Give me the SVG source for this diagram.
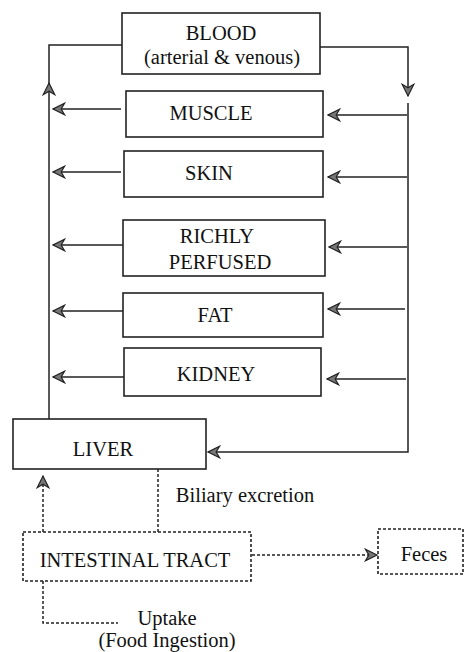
<svg xmlns="http://www.w3.org/2000/svg" width="465" height="652" viewBox="0 0 465 652">
<defs>
<marker id="ahd" markerUnits="userSpaceOnUse" markerWidth="14" markerHeight="14" viewBox="0 0 12 12" refX="11" refY="6" orient="auto">
<path d="M11,6 L1,1 L4,6 L1,11 Z" fill="#777" stroke="#222" stroke-width="1"/>
</marker>
</defs>
<style>
.box{fill:#fff;stroke:#222;stroke-width:1.6}
.dbox{fill:#fff;stroke:#222;stroke-width:1.6;stroke-dasharray:3,2}
.ln{fill:none;stroke:#222;stroke-width:1.5}
.dl{fill:none;stroke:#222;stroke-width:1.5;stroke-dasharray:3,2}
text{font-family:'Liberation Serif','Times New Roman','DejaVu Serif',serif;font-size:20.5px;fill:#111;text-anchor:middle}
</style>
<g id="connectors">
<path class="ln" d="M49,419 L49,84"/>
<path class="ln" d="M49,84 L49,45 L122,45"/>
<line x1="49" y1="84" x2="49" y2="83" class="ln" marker-end="url(#ahd)"/>
<path class="ln" d="M320,47 L408,47 L408,96" marker-end="url(#ahd)"/>
<path class="ln" d="M408,103 L408,452 L208,452" marker-end="url(#ahd)"/>
<path class="ln" d="M121,109 L53,109" marker-end="url(#ahd)"/>
<path class="ln" d="M121,172 L53,172" marker-end="url(#ahd)"/>
<path class="ln" d="M123,245 L53,245" marker-end="url(#ahd)"/>
<path class="ln" d="M123,311 L53,311" marker-end="url(#ahd)"/>
<path class="ln" d="M124,377 L53,377" marker-end="url(#ahd)"/>
<path class="ln" d="M407,115 L328,115" marker-end="url(#ahd)"/>
<path class="ln" d="M407,177 L328,177" marker-end="url(#ahd)"/>
<path class="ln" d="M407,247 L329,247" marker-end="url(#ahd)"/>
<path class="ln" d="M405,309 L328,309" marker-end="url(#ahd)"/>
<path class="ln" d="M406,379 L327,379" marker-end="url(#ahd)"/>
<path class="dl" d="M43,532 L43,476" marker-end="url(#ahd)"/>
<path class="dl" d="M158,469 L158,532"/>
<path class="dl" d="M252,555 L377,555" marker-end="url(#ahd)"/>
<path class="dl" d="M43,581 L43,623 L118,623"/>
</g>
<g id="blood"><rect class="box" x="122" y="13" width="198" height="61"/><text x="221" y="40">BLOOD</text><text x="222" y="64">(arterial &amp; venous)</text></g>
<g id="muscle"><rect class="box" x="126" y="91" width="197" height="46"/><text x="211" y="120">MUSCLE</text></g>
<g id="skin"><rect class="box" x="124" y="151" width="199" height="46"/><text x="209" y="180">SKIN</text></g>
<g id="richly"><rect class="box" x="123" y="220" width="202" height="56"/><text x="217" y="243">RICHLY</text><text x="220" y="269">PERFUSED</text></g>
<g id="fat"><rect class="box" x="123" y="293" width="200" height="44"/><text x="215" y="322">FAT</text></g>
<g id="kidney"><rect class="box" x="124" y="348" width="197" height="48"/><text x="216" y="381">KIDNEY</text></g>
<g id="liver"><rect class="box" x="13" y="419" width="193" height="50"/><text x="103" y="456">LIVER</text></g>
<g id="biliary"><text x="245" y="502">Biliary excretion</text></g>
<g id="intestinal"><rect class="dbox" x="23" y="532" width="228" height="49"/><text x="135" y="567">INTESTINAL TRACT</text></g>
<g id="feces"><rect class="dbox" x="378" y="529" width="85" height="45"/><text x="424" y="561">Feces</text></g>
<g id="uptake"><text x="167" y="625">Uptake</text><text x="167" y="647">(Food Ingestion)</text></g>
</svg>
